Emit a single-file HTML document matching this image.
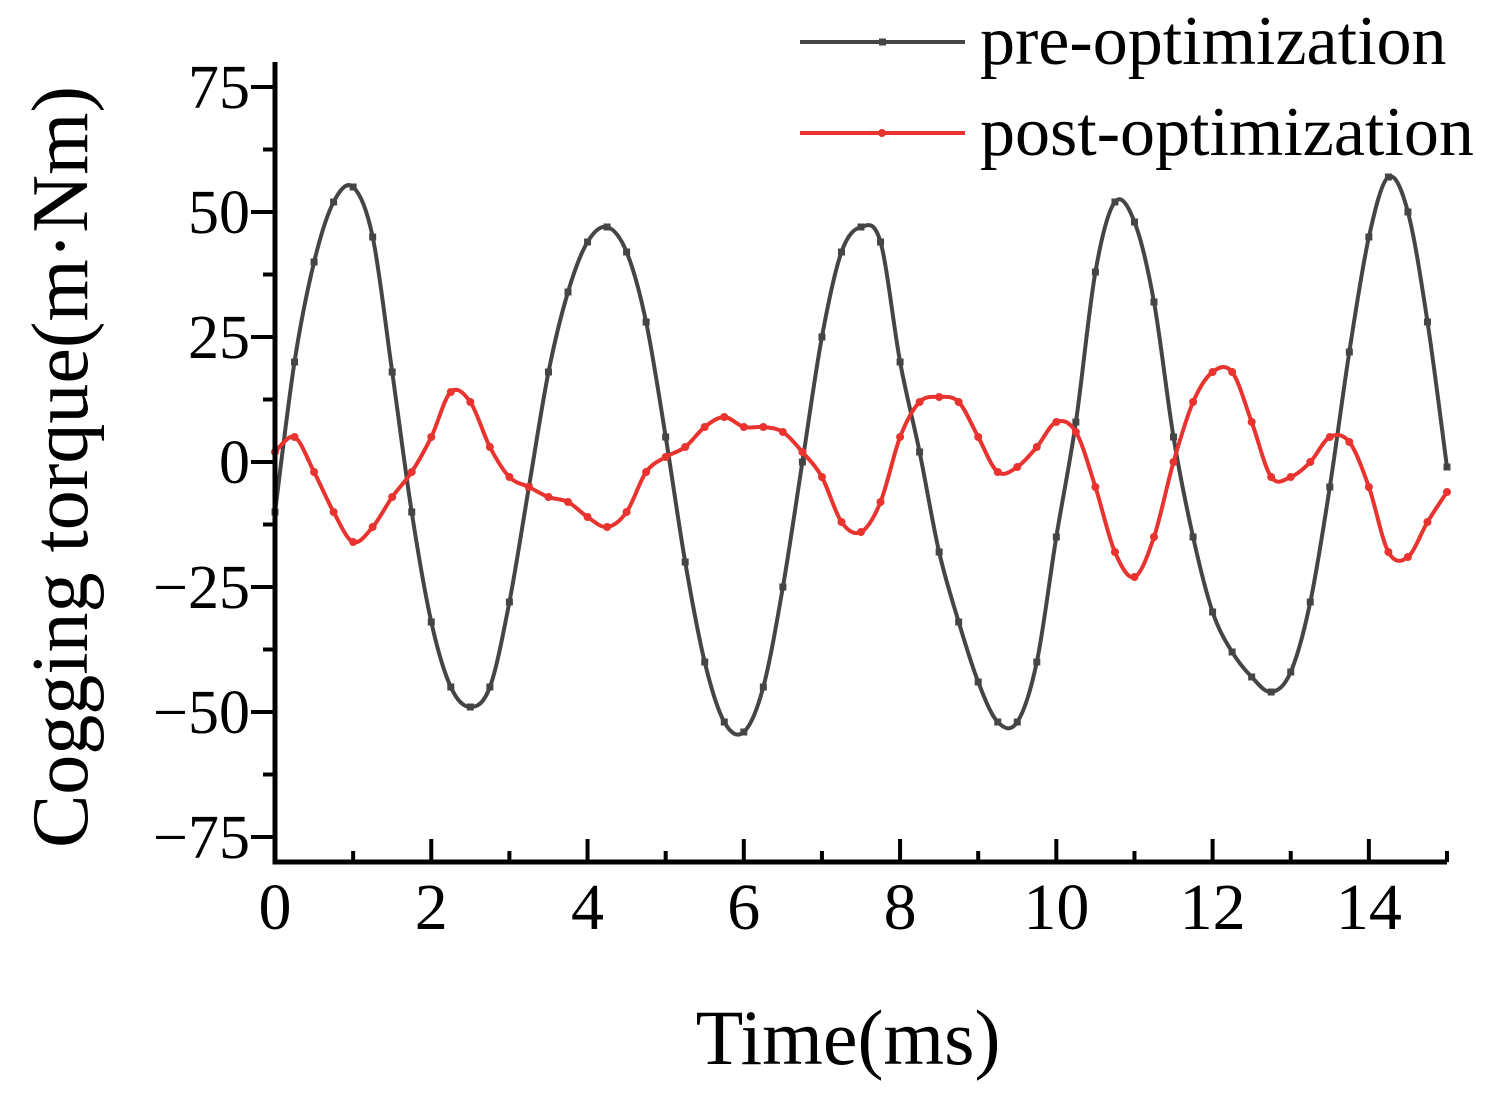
<!DOCTYPE html>
<html><head><meta charset="utf-8"><style>
body{margin:0;background:#fff}
svg text{font-family:"Liberation Serif",serif;fill:#000}
</style></head><body>
<svg id="c" width="1508" height="1104" viewBox="0 0 1508 1104"></svg>
<script>
const times=[0,0.25,0.5,0.75,1,1.25,1.5,1.75,2,2.25,2.5,2.75,3,3.25,3.5,3.75,4,4.25,4.5,4.75,5,5.25,5.5,5.75,6,6.25,6.5,6.75,7,7.25,7.5,7.75,8,8.25,8.5,8.75,9,9.25,9.5,9.75,10,10.25,10.5,10.75,11,11.25,11.5,11.75,12,12.25,12.5,12.75,13,13.25,13.5,13.75,14,14.25,14.5,14.75,15];
const preValues=[-10,20,40,52,55,45,18,-10,-32,-45,-49,-45,-28,-5,18,34,44,47,42,28,5,-20,-40,-52,-54,-45,-25,0,25,42,47,44,20,2,-18,-32,-44,-52,-52,-40,-15,8,38,52,48,32,5,-15,-30,-38,-43,-46,-42,-28,-5,22,45,57,50,28,-1];
const postValues=[2,5,-2,-10,-16,-13,-7,-2,5,14,12,3,-3,-5,-7,-8,-11,-13,-10,-2,1,3,7,9,7,7,6,2,-3,-12,-14,-8,5,12,13,12,5,-2,-1,3,8,6,-5,-18,-23,-15,0,12,18,18,8,-3,-3,0,5,4,-5,-18,-19,-12,-6];
const xTicks=[0,2,4,6,8,10,12,14];
const yTicks=[-75,-50,-25,0,25,50,75];
const NS="http://www.w3.org/2000/svg",svg=document.getElementById('c');
const X0=275,X1=1447,Y0=862,Y1=62;
const sx=t=>X0+(t-0)/(15-0)*(X1-X0);
const sy=v=>Y0-(v+80)/160*(Y0-Y1);
function mk(tag,a,p){const e=document.createElementNS(NS,tag);for(const k in a)e.setAttribute(k,a[k]);(p||svg).appendChild(e);return e;}
function smoothPath(pts){
  let d='M'+pts[0][0].toFixed(1)+','+pts[0][1].toFixed(1);
  for(let i=0;i<pts.length-1;i++){
    const p0=pts[Math.max(0,i-1)],p1=pts[i],p2=pts[i+1],p3=pts[Math.min(pts.length-1,i+2)];
    const c1=[p1[0]+(p2[0]-p0[0])/6,p1[1]+(p2[1]-p0[1])/6];
    const c2=[p2[0]-(p3[0]-p1[0])/6,p2[1]-(p3[1]-p1[1])/6];
    d+='C'+c1.map(v=>v.toFixed(1)).join(',')+' '+c2.map(v=>v.toFixed(1)).join(',')+' '+p2.map(v=>v.toFixed(1)).join(',');
  }
  return d;
}
function series(vals,color,name,sq){
  const g=mk('g',{});
  
  
  const pts=times.map((t,i)=>[sx(t),sy(vals[i])]);
  const p=mk('path',{d:smoothPath(pts),fill:'none',stroke:color,'stroke-width':4,'stroke-linejoin':'round'},g);
  
  
  times.forEach((t,i)=>{
    let m;
    if(sq)m=mk('rect',{x:sx(t)-3.5,y:sy(vals[i])-3.5,width:7,height:7,fill:color},g);
    else m=mk('circle',{cx:sx(t),cy:sy(vals[i]),r:4,fill:color},g);
    
    
  });
}
series(preValues,'#454545','pre-optimization-series',true);
series(postValues,'#e8332f','post-optimization-series',false);
const ax=mk('path',{d:`M${X0},${Y1}L${X0},${Y0}L${X1},${Y0}`,fill:'none',stroke:'#000','stroke-width':5});


for(let t=0;t<=15;t++){
  const major=t%2===0;
  const tk=mk('line',{x1:sx(t),x2:sx(t),y1:Y0,y2:Y0-(major?23:11),stroke:'#000','stroke-width':4});
  
  
}
xTicks.forEach(t=>{
  const l=mk('text',{x:sx(t),y:929,'font-size':66,'text-anchor':'middle'});l.textContent=t;
  
  
});
for(let v=-75;v<=75;v+=12.5){
  const major=(v%25===0);
  const tk=mk('line',{x1:X0,x2:X0-(major?24:12),y1:sy(v),y2:sy(v),stroke:'#000','stroke-width':4});
  
  
}
yTicks.forEach(v=>{
  const l=mk('text',{x:250,y:sy(v)+21,'font-size':62,'text-anchor':'end'});l.textContent=(v<0?'\u2212'+(-v):v);
  
  
});
const xt=mk('text',{x:848,y:1064,'font-size':78,'text-anchor':'middle'});xt.textContent='Time(ms)';


const yt=mk('text',{x:0,y:0,'font-size':80,'text-anchor':'middle',transform:'translate(87,467) rotate(-90)'});yt.textContent='Cogging torque(m\u00b7Nm)';


[['pre-optimization','#454545',42,true],['post-optimization','#e8332f',133,false]].forEach(([txt,c,y,sq])=>{
  const g=mk('g',{});
  
  
  mk('line',{x1:800,x2:965,y1:y,y2:y,stroke:c,'stroke-width':4},g);
  if(sq)mk('rect',{x:879,y:y-3.5,width:7,height:7,fill:c},g);else mk('circle',{cx:882,cy:y,r:4,fill:c},g);
  const t=mk('text',{x:980,y:y+22,'font-size':70},g);t.textContent=txt;
});
</script>
</body></html>
